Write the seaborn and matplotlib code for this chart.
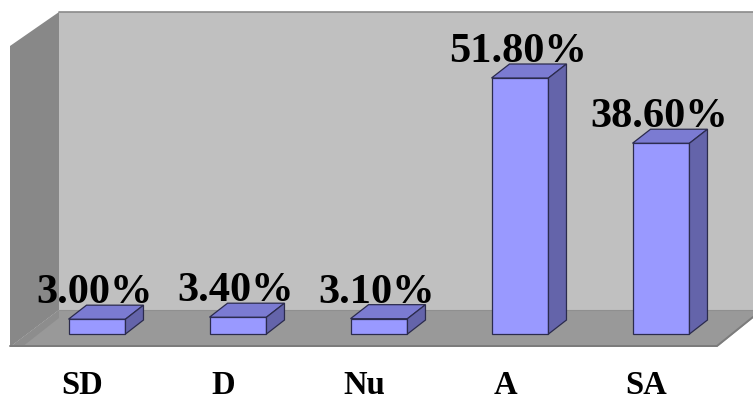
import matplotlib
matplotlib.use("Agg")
import matplotlib.pyplot as plt
from matplotlib.patches import Polygon
import seaborn as sns
import pandas as pd

# Survey response shares
categories = ["SD", "D", "Nu", "A", "SA"]
values = [3.0, 3.4, 3.1, 51.8, 38.6]

W, H = 753, 403
sns.set_theme(style="white")
plt.rcParams["font.family"] = ["Liberation Serif", "DejaVu Serif"]

fig = plt.figure(figsize=(W / 100, H / 100), dpi=100)
ax = fig.add_axes([0, 0, 1, 1])

df = pd.DataFrame({"cat": categories, "val": values})

FRONT = "#9999ff"
TOP = "#7b7bd2"
SIDE = "#6464aa"
EDGE = "#2b2b4d"

sns.barplot(data=df, x="cat", y="val", color=FRONT, saturation=1,
            width=0.404, edgecolor=EDGE, linewidth=0.9, ax=ax, zorder=3)

# axis range: category spacing 141 px, 4.94 px per percent
ax.set_xlim(-97 / 141, (W - 97) / 141)
ax.set_ylim(-69 / 4.942, 334 / 4.942)
ax.axis("off")


def fa(px, py):
    """pixel position -> axes fraction"""
    return (px / W, 1 - py / H)


def wall(points, color, z=0.5, ec="none", lw=0):
    ax.add_patch(Polygon([fa(*p) for p in points], closed=True,
                         transform=ax.transAxes, facecolor=color,
                         edgecolor=ec, linewidth=lw, zorder=z))


# chart box: back wall, left wall, floor
wall([(59, 12), (W, 12), (W, 310), (59, 310)], "#c0c0c0")
wall([(10, 46), (59, 12), (59, 310), (10, 347)], "#888888")
wall([(10, 347), (717, 347), (W, 318), (W, 310), (59, 310)], "#999999")
wall([(10, 347), (59, 310), (59, 318), (22, 347)], "#8d8d8d", z=0.6)
ax.plot([fa(59, 12)[0], 1], [fa(59, 12)[1]] * 2, transform=ax.transAxes,
        color="#8a8a8a", lw=1.2, zorder=0.7)
ax.plot([fa(59, 310)[0], 1], [fa(59, 310)[1]] * 2, transform=ax.transAxes,
        color="#8f8f8f", lw=0.8, zorder=0.7)
ax.plot([fa(10, 346)[0], fa(717, 346)[0], fa(W, 317)[0]],
        [fa(10, 346)[1], fa(717, 346)[1], fa(W, 317)[1]],
        transform=ax.transAxes, color="#7c7c7c", lw=1.4, zorder=0.7)

# depth of each 3-D bar in data units
xlo, xhi = ax.get_xlim()
ylo, yhi = ax.get_ylim()
ddx = 18 * (xhi - xlo) / W
ddy = 14 * (yhi - ylo) / H

bars = [p for p in ax.patches if p.get_zorder() == 3]
for bar, v in zip(bars, values):
    x0 = bar.get_x()
    w = bar.get_width()
    h = bar.get_height()
    ax.add_patch(Polygon([(x0, h), (x0 + w, h), (x0 + w + ddx, h + ddy),
                          (x0 + ddx, h + ddy)], closed=True, facecolor=TOP,
                         edgecolor=EDGE, linewidth=0.9, zorder=3))
    ax.add_patch(Polygon([(x0 + w, 0), (x0 + w + ddx, ddy),
                          (x0 + w + ddx, h + ddy), (x0 + w, h)], closed=True,
                         facecolor=SIDE, edgecolor=EDGE, linewidth=0.9,
                         zorder=3))
    ax.text(x0 + w / 2 - 0.015, h + ddy + 0.4, f"{v:.2f}%",
            ha="center", va="baseline", fontsize=30.5, fontweight="bold",
            color="black", zorder=5)

# category names along the floor's front edge
for i, c in enumerate(categories):
    ax.text(i - 15 * (xhi - xlo) / W, ylo + 9 * (yhi - ylo) / H, c,
            ha="center", va="baseline", fontsize=23.5, fontweight="bold",
            color="black", zorder=5)

fig.savefig("out.png", dpi=100, facecolor="white")
